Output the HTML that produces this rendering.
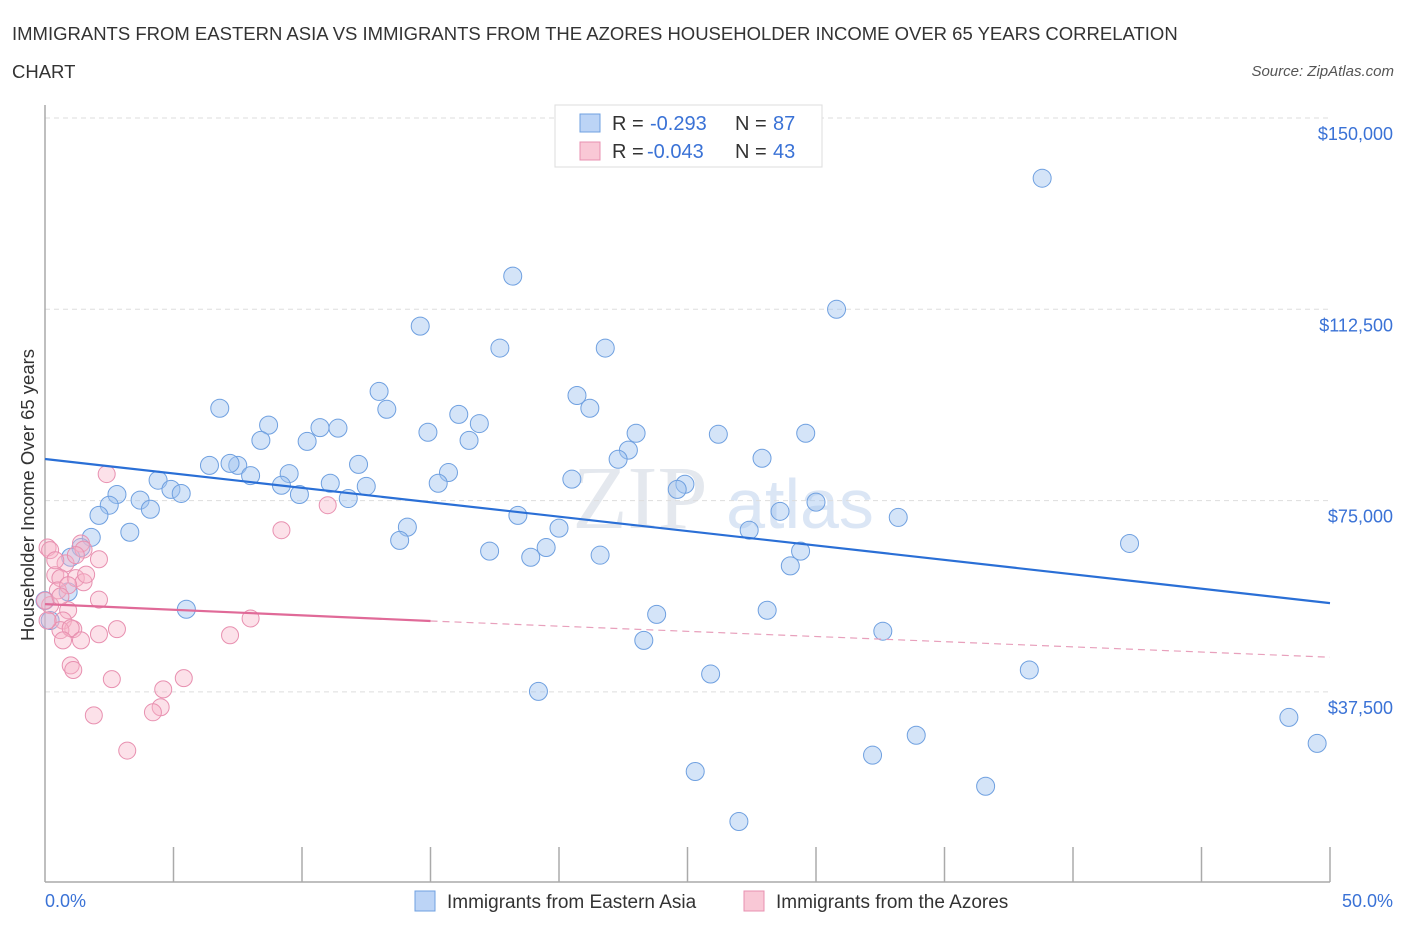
<!DOCTYPE html>
<html><head><meta charset="utf-8"><style>
body{margin:0;background:#fff;font-family:"Liberation Sans",sans-serif;}
svg{display:block}
</style></head><body>
<svg id="c" width="1406" height="930">
<text x="12" y="40" font-size="18.5" fill="#333">IMMIGRANTS FROM EASTERN ASIA VS IMMIGRANTS FROM THE AZORES HOUSEHOLDER INCOME OVER 65 YEARS CORRELATION</text>
<text x="12" y="78" font-size="18.5" fill="#333">CHART</text>
<text x="1394" y="76" font-size="15" fill="#555" font-style="italic" text-anchor="end">Source: ZipAtlas.com</text>
<text x="640" y="528" font-size="90" fill="#e4e8ee" font-family="Liberation Serif" text-anchor="middle">ZIP</text>
<text x="800" y="528" font-size="70" fill="#dbe6f5" text-anchor="middle">atlas</text>
<g id="grid"></g><g id="axes"></g><g id="pts"></g><g id="lines"></g>
<text x="34" y="495" font-size="18.5" fill="#333" text-anchor="middle" transform="rotate(-90 34 495)">Householder Income Over 65 years</text>
<text x="45" y="907" font-size="18" fill="#3a72d6">0.0%</text>
<text x="1393" y="907" font-size="18" fill="#3a72d6" text-anchor="end">50.0%</text>
<g>
<rect x="555" y="105" width="267" height="62" fill="#fff" stroke="#ddd"/>
<rect x="580" y="114" width="20" height="18" fill="#bcd4f6" stroke="#6fa0e0"/>
<rect x="580" y="142" width="20" height="18" fill="#f9c8d6" stroke="#e890b0"/>
<text x="612" y="130" font-size="20" fill="#333">R =</text>
<text x="650" y="130" font-size="20" fill="#3a72d6">-0.293</text>
<text x="735" y="130" font-size="20" fill="#333">N =</text>
<text x="773" y="130" font-size="20" fill="#3a72d6">87</text>
<text x="612" y="158" font-size="20" fill="#333">R =</text>
<text x="647" y="158" font-size="20" fill="#3a72d6">-0.043</text>
<text x="735" y="158" font-size="20" fill="#333">N =</text>
<text x="773" y="158" font-size="20" fill="#3a72d6">43</text>
</g>
<g>
<rect x="415" y="891" width="20" height="20" fill="#bcd4f6" stroke="#6fa0e0"/>
<text x="447" y="908" font-size="19" fill="#333">Immigrants from Eastern Asia</text>
<rect x="744" y="891" width="20" height="20" fill="#f9c8d6" stroke="#e890b0"/>
<text x="776" y="908" font-size="19" fill="#333">Immigrants from the Azores</text>
</g>
</svg>
<script>
const yTicks=[150000,112500,75000,37500];
const yTickLabels=["$150,000","$112,500","$75,000","$37,500"];
const blueX=[18.2,38.8,30.8,14.6,17.7,21.8,13.0,20.7,6.8,13.3,21.2,16.1,8.7,16.9,10.7,11.4,14.9,8.4,16.5,10.2,23.0,26.2,29.6,22.7,22.3,27.9,6.4,12.2,7.5,7.2,9.5,8.0,15.7,4.4,4.9,5.3,15.3,9.2,9.9,11.1,12.5,20.5,24.9,24.6,2.8,3.7,2.5,4.1,11.8,30.0,2.1,18.4,28.6,33.2,3.3,14.1,13.8,20.0,27.4,1.8,1.4,1.0,42.2,17.3,19.5,21.6,18.9,29.4,29.0,0.9,5.5,23.8,28.1,32.6,23.3,25.9,38.3,19.2,48.4,33.9,49.5,32.2,25.3,36.6,27.0,0.2,0.0];
const blueY=[119.0,138.2,112.5,109.2,104.9,104.9,96.4,95.6,93.1,92.9,93.1,91.9,89.8,90.1,89.3,89.2,88.4,86.8,86.8,86.6,88.2,88.0,88.2,84.9,83.1,83.3,81.9,82.1,81.9,82.3,80.3,79.9,80.5,79.0,77.2,76.4,78.4,78.0,76.2,78.4,77.8,79.2,78.2,77.2,76.2,75.1,74.1,73.3,75.4,74.7,72.1,72.1,72.9,71.7,68.8,69.8,67.2,69.6,69.2,67.8,65.8,63.9,66.6,65.1,65.8,64.3,63.9,65.1,62.2,57.1,53.7,52.7,53.5,49.4,47.6,41.0,41.8,37.6,32.5,29.0,27.4,25.1,21.9,19.0,12.1,51.5,55.4];
const pinkX=[2.4,11.0,9.2,0.1,0.2,1.4,1.5,0.8,2.1,0.4,0.6,1.2,1.5,1.6,0.5,0.9,2.1,0.2,0.9,0.7,1.1,0.6,1.0,2.1,2.8,7.2,8.0,0.7,1.0,1.1,2.6,5.4,4.6,1.9,4.5,4.2,3.2,0.0,0.6,0.4,1.2,1.4,0.1];
const pinkY=[80.2,74.1,69.2,65.8,65.3,66.6,65.4,62.7,63.5,60.4,59.8,59.8,59.0,60.5,57.4,58.4,55.6,54.5,53.5,51.5,49.8,49.6,50.0,48.8,49.8,48.6,51.9,47.6,42.7,41.8,40.0,40.2,38.0,32.9,34.5,33.5,26.0,55.4,56.2,63.3,64.3,47.6,51.5];
const blueTrend=[83.15,54.9];
const pinkTrend=[54.7,51.4,44.3];
const NS="http://www.w3.org/2000/svg";
const X=p=>45+p/50*1285;
const Y=v=>118+(150000-v)/37500*191.3;
function mk(t,a,parent){const e=document.createElementNS(NS,t);for(const k in a)e.setAttribute(k,a[k]);document.getElementById(parent).appendChild(e);return e;}
yTicks.forEach((v,i)=>{
 const g=mk('line',{x1:45,x2:1330,y1:Y(v),y2:Y(v),stroke:'#ddd','stroke-dasharray':'5,4'},'grid');
 
 
 const t=mk('text',{x:1393,y:Y(v)+22,'font-size':18,fill:'#3a72d6','text-anchor':'end'},'grid');
 t.textContent=yTickLabels[i];
 
 
});
const ax=mk('line',{x1:45,x2:45,y1:105,y2:882,stroke:'#aaa','stroke-width':1.5},'axes');


const bx=mk('line',{x1:45,x2:1330,y1:882,y2:882,stroke:'#aaa','stroke-width':1.5},'axes');


for(let i=1;i<=10;i++){const t=mk('line',{x1:X(i*5),x2:X(i*5),y1:847,y2:882,stroke:'#aaa','stroke-width':1.5},'axes');
 
 }
blueX.forEach((x,i)=>{const c=mk('circle',{cx:X(x),cy:Y(blueY[i]*1000),r:9,fill:'rgba(160,196,240,0.45)',stroke:'#6fa0e0','stroke-width':1},'pts');
 
 });
pinkX.forEach((x,i)=>{const c=mk('circle',{cx:X(x),cy:Y(pinkY[i]*1000),r:8.5,fill:'rgba(248,180,200,0.4)',stroke:'#e890b0','stroke-width':1},'pts');
 
 });
const bl=mk('line',{x1:X(0),y1:Y(blueTrend[0]*1000),x2:X(50),y2:Y(blueTrend[1]*1000),stroke:'#2a6fd6','stroke-width':2.2},'lines');


const pl=mk('line',{x1:X(0),y1:Y(pinkTrend[0]*1000),x2:X(15),y2:Y(pinkTrend[1]*1000),stroke:'#e06a98','stroke-width':2.2},'lines');


const pd=mk('line',{x1:X(15),y1:Y(pinkTrend[1]*1000),x2:X(50),y2:Y(pinkTrend[2]*1000),stroke:'#e8a0bc','stroke-width':1.2,'stroke-dasharray':'7,5'},'lines');


</script>
</body></html>
